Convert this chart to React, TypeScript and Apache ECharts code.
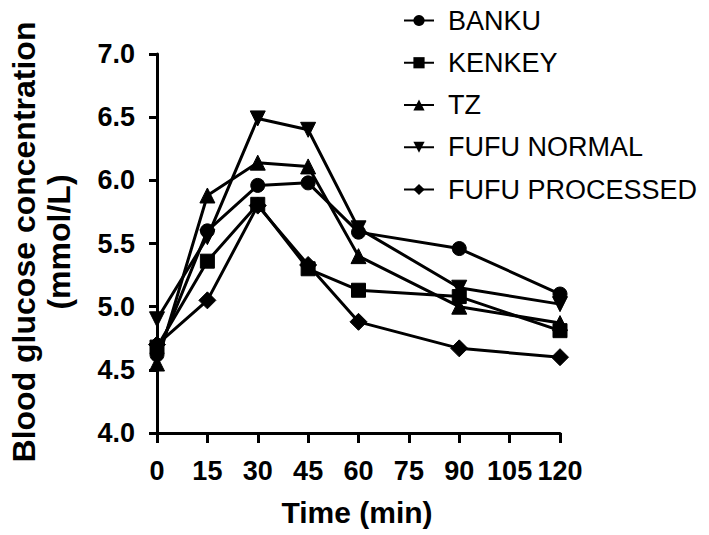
import React, { useEffect, useRef } from "react";
import * as echarts from "echarts";

const times = [0, 15, 30, 45, 60, 90, 120];
const seriesNames = ["BANKU", "KENKEY", "TZ", "FUFU NORMAL", "FUFU PROCESSED"];
const banku = [4.62, 5.6, 5.96, 5.98, 5.59, 5.46, 5.1];
const kenkey = [4.68, 5.36, 5.81, 5.3, 5.13, 5.08, 4.81];
const tz = [4.55, 5.88, 6.14, 6.11, 5.4, 5.0, 4.87];
const fufuNormal = [4.9, 5.55, 6.49, 6.4, 5.62, 5.15, 5.02];
const fufuProcessed = [4.7, 5.05, 5.8, 5.33, 4.88, 4.67, 4.6];
const yTicks = { min: 4.0, max: 7.0, interval: 0.5 };
const xTicks = { min: 0, max: 120, interval: 15 };

const symbols = [
  "circle",
  "rect",
  "triangle",
  "path://M0,0 L10,0 L5,10 Z",
  "diamond",
];

export default function App() {
  const ref = useRef<HTMLDivElement>(null);
  useEffect(() => {
    if (!ref.current) return;
    const chart = echarts.init(ref.current, null, { renderer: "svg" });
    const allData = [banku, kenkey, tz, fufuNormal, fufuProcessed];
    const font = "Liberation Sans, Arial, sans-serif";
    chart.setOption({
      animation: false,
      textStyle: { fontFamily: font },
      grid: { left: 157, right: 149, top: 54, bottom: 102, containLabel: false },
      legend: {
        orient: "vertical",
        left: 398,
        top: 1,
        itemGap: 13.25,
        itemWidth: 30,
        itemHeight: 14,
        data: seriesNames,
        textStyle: { fontSize: 27, color: "#000", fontFamily: font, padding: [0, 0, 0, 9], lineHeight: 29 },
      },
      xAxis: {
        type: "value",
        min: xTicks.min,
        max: xTicks.max,
        interval: xTicks.interval,
        splitLine: { show: false },
        axisLine: { lineStyle: { color: "#000", width: 3 } },
        axisTick: { show: true, length: 10, lineStyle: { color: "#000", width: 3 } },
        axisLabel: { color: "#000", fontSize: 27, fontWeight: "bold", margin: 24 },
      },
      yAxis: {
        type: "value",
        min: yTicks.min,
        max: yTicks.max,
        interval: yTicks.interval,
        splitLine: { show: false },
        axisLine: { show: true, lineStyle: { color: "#000", width: 3 } },
        axisTick: { show: true, length: 8, lineStyle: { color: "#000", width: 3 } },
        axisLabel: {
          color: "#000",
          fontSize: 27,
          fontWeight: "bold",
          margin: 22,
          formatter: (v: number) => v.toFixed(1),
        },
      },
      graphic: [
        {
          type: "text",
          x: 357,
          y: 512,
          style: {
            text: "Time (min)",
            fontSize: 30,
            fontWeight: "bold",
            fontFamily: font,
            fill: "#000",
            textAlign: "center",
            textVerticalAlign: "middle",
          },
        },
        {
          type: "text",
          x: 41,
          y: 242,
          rotation: Math.PI / 2,
          style: {
            text: "Blood glucose concentration\n(mmol/L)",
            fontSize: 32,
            fontWeight: "bold",
            fontFamily: font,
            fill: "#000",
            textAlign: "center",
            textVerticalAlign: "middle",
            lineHeight: 35,
          },
        },
      ],
      series: seriesNames.map((name, i) => ({
        name,
        type: "line",
        data: times.map((t, j) => [t, allData[i][j]]),
        symbol: symbols[i],
        symbolSize: i === 4 ? 17 : i === 2 || i === 3 ? 15 : 14,
        lineStyle: { color: "#000", width: 3 },
        itemStyle: { color: "#000", borderColor: "#000" },
        emphasis: { disabled: true },
      })),
    });
    return () => chart.dispose();
  }, []);
  return (
    <div
      ref={ref}
      style={{ position: "fixed", left: 0, top: 0, width: 709, height: 535, background: "#fff" }}
    />
  );
}
